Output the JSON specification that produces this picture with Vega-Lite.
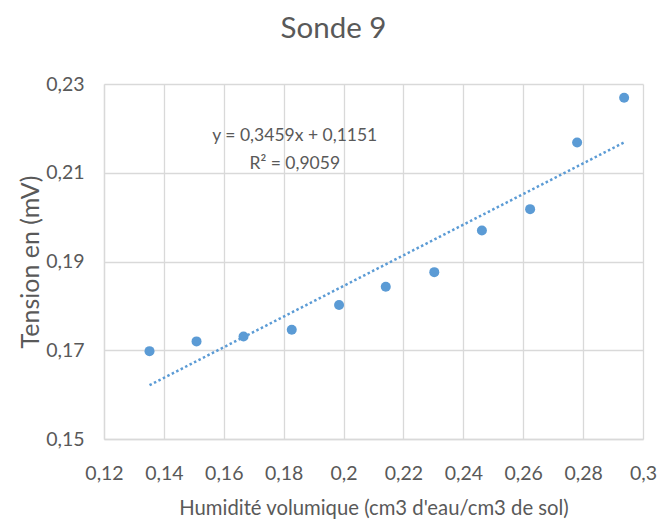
{
  "$schema": "https://vega.github.io/schema/vega-lite/v6.json",
  "width": 539,
  "height": 355,
  "autosize": {"type": "none"},
  "padding": {"left": 104, "top": 84, "right": 17, "bottom": 82},
  "background": "white",
  "title": {"text": "Sonde 9", "fontSize": 29.5, "fontWeight": "normal", "color": "#595959", "anchor": "middle", "dx": -40, "offset": 30},
  "config": {
    "view": {"stroke": null},
    "font": "Lato, Open Sans, sans-serif"
  },
  "data": {
    "values": [
      {"humidite": 0.1352, "tension": 0.1698},
      {"humidite": 0.1509, "tension": 0.1720},
      {"humidite": 0.1666, "tension": 0.1731},
      {"humidite": 0.1827, "tension": 0.1746},
      {"humidite": 0.1985, "tension": 0.1802},
      {"humidite": 0.2141, "tension": 0.1843},
      {"humidite": 0.2303, "tension": 0.1876},
      {"humidite": 0.2462, "tension": 0.1970},
      {"humidite": 0.2623, "tension": 0.2018},
      {"humidite": 0.2780, "tension": 0.2168},
      {"humidite": 0.2937, "tension": 0.2269}
    ]
  },
  "layer": [
    {
      "mark": {"type": "point", "filled": true, "size": 100, "color": "#5b9bd5", "opacity": 1},
      "encoding": {
        "x": {
          "field": "humidite", "type": "quantitative",
          "scale": {"domain": [0.12, 0.3], "nice": false, "zero": false},
          "axis": {
            "title": "Humidité volumique (cm3 d'eau/cm3 de sol)",
            "values": [0.12, 0.14, 0.16, 0.18, 0.2, 0.22, 0.24, 0.26, 0.28, 0.3],
            "labelExpr": "replace(format(datum.value, '.2~f'), '.', ',')",
            "labelFlush": false, "labelOverlap": false,
            "grid": true, "gridColor": "#d9d9d9", "gridWidth": 1.3,
            "domain": true, "domainColor": "#d9d9d9", "domainWidth": 1.3,
            "ticks": false,
            "labelFontSize": 19.5, "labelColor": "#595959", "labelPadding": 25,
            "titleFontSize": 20.3, "titleFontWeight": "normal", "titleColor": "#595959", "titlePadding": 16
          }
        },
        "y": {
          "field": "tension", "type": "quantitative",
          "scale": {"domain": [0.15, 0.23], "nice": false, "zero": false},
          "axis": {
            "title": "Tension en (mV)",
            "values": [0.15, 0.17, 0.19, 0.21, 0.23],
            "labelExpr": "replace(format(datum.value, '.2~f'), '.', ',')",
            "labelFlush": false, "labelOverlap": false,
            "grid": true, "gridColor": "#d9d9d9", "gridWidth": 1.3,
            "domain": true, "domainColor": "#d9d9d9", "domainWidth": 1.3,
            "ticks": false,
            "labelFontSize": 19.5, "labelColor": "#595959", "labelPadding": 20,
            "titleFontSize": 25, "titleFontWeight": "normal", "titleColor": "#595959", "titlePadding": 2
          }
        }
      }
    },
    {
      "transform": [{"regression": "tension", "on": "humidite"}],
      "mark": {"type": "line", "color": "#5b9bd5", "strokeDash": [2.5, 2.5], "strokeWidth": 2.5},
      "encoding": {
        "x": {"field": "humidite", "type": "quantitative"},
        "y": {"field": "tension", "type": "quantitative"}
      }
    },
    {
      "data": {"values": [{"label": "equation"}]},
      "mark": {"type": "text", "text": ["y = 0,3459x + 0,1151", "R² = 0,9059"], "fontSize": 17.5, "fontWeight": "normal", "fill": "#595959", "align": "center", "baseline": "middle", "lineHeight": 28},
      "encoding": {
        "x": {"datum": 0.1837},
        "y": {"datum": 0.2182}
      }
    }
  ]
}
